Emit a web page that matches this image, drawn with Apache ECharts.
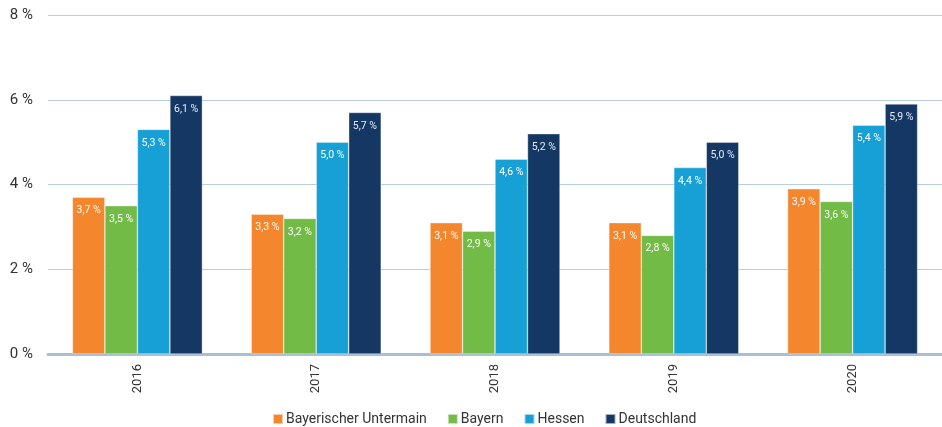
<!DOCTYPE html>
<html><head><meta charset="utf-8">
<script src="https://cdn.jsdelivr.net/npm/echarts@6/dist/echarts.min.js"></script>
<style>html,body{margin:0;padding:0;background:#fff}#c{width:942px;height:427px}</style>
</head><body><div id="c"></div>
<script>
const categories = ['2016','2017','2018','2019','2020'];
const seriesNames = ['Bayerischer Untermain','Bayern','Hessen','Deutschland'];
const untermain = [3.7, 3.3, 3.1, 3.1, 3.9];
const bayern = [3.5, 3.2, 2.9, 2.8, 3.6];
const hessen = [5.3, 5.0, 4.6, 4.4, 5.4];
const deutschland = [6.1, 5.7, 5.2, 5.0, 5.9];
const yTicks = [0, 2, 4, 6, 8];
const colors = ['#f4862e','#72bb46','#16a0d6','#143863'];

const fmt = v => v.toFixed(1).replace('.', ',') + ' %';
const mk = (name, data, i) => ({
  name, type: 'bar', data, barWidth: 32.5, barGap: '0%',
  itemStyle: { color: colors[i], borderColor: 'rgba(255,255,255,0.6)', borderWidth: 0.6 },
  label: { show: true, position: 'insideTop', distance: 8, color: i === 3 ? '#e6ecf3' : '#fff',
    fontSize: 10.5, fontFamily: 'Roboto, sans-serif', formatter: p => fmt(p.value) },
  z: 3
});
const chart = echarts.init(document.getElementById('c'));
chart.setOption({
  animation: false,
  textStyle: { fontFamily: 'Roboto, sans-serif' },
  grid: { left: 48, right: 0, top: 15, bottom: 73, containLabel: false },
  legend: {
    data: seriesNames, top: 407, left: 267, icon: 'rect', itemWidth: 10, itemHeight: 10, itemGap: 20,
    textStyle: { fontSize: 14, color: '#333', padding: [0, 0, 0, -2] }
  },
  xAxis: {
    type: 'category', data: categories,
    axisLine: { lineStyle: { color: '#a8bfd8', width: 3 } },
    axisTick: { show: false },
    axisLabel: { rotate: 90, fontSize: 13, color: '#333', margin: 10 }
  },
  yAxis: {
    type: 'value', min: yTicks[0], max: yTicks[yTicks.length - 1], interval: 2,
    axisLine: { show: false }, axisTick: { show: false },
    splitLine: { lineStyle: { color: '#b9cde3', width: 1 } },
    axisLabel: { fontSize: 15, color: '#333', margin: 15, formatter: v => v + ' %' }
  },
  series: [mk(seriesNames[0], untermain, 0), mk(seriesNames[1], bayern, 1), mk(seriesNames[2], hessen, 2), mk(seriesNames[3], deutschland, 3)]
});
</script></body></html>
